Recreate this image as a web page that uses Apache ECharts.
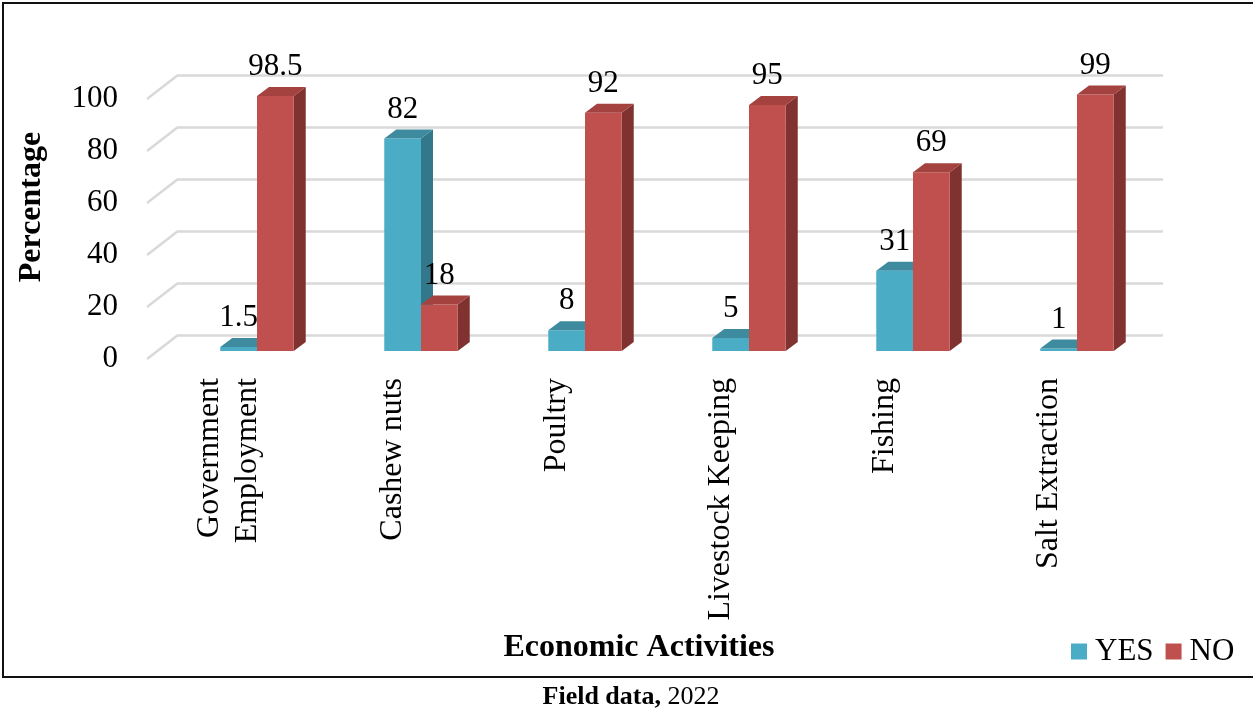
<!DOCTYPE html>
<html>
<head>
<meta charset="utf-8">
<script src="https://cdn.jsdelivr.net/npm/echarts@6/dist/echarts.min.js"></script>
<style>
html,body{margin:0;padding:0;background:#fff;}
#chart{width:1253px;height:711px;}
</style>
</head>
<body>
<div id="chart"></div>
<script>
const categories = ['Government\nEmployment', 'Cashew nuts', 'Poultry', 'Livestock Keeping', 'Fishing', 'Salt Extraction'];
const yesValues = [1.5, 82, 8, 5, 31, 1];
const noValues = [98.5, 18, 92, 95, 69, 99];
const yTicks = [0, 20, 40, 60, 80, 100];
const seriesNames = ['YES', 'NO'];

const FONT = '"Liberation Serif", "Times New Roman", serif';
const COLORS = {
  YES: { front: '#4bacc6', top: '#3e8ba0', side: '#32788a' },
  NO: { front: '#c0504d', top: '#a3423f', side: '#7f3230' }
};
const DEPTH_X = 12, DEPTH_Y = 9;
const BAR_FRAC = 0.224;

function barRenderer(which) {
  return function (params, api) {
    const cat = api.value(0), v = api.value(1);
    const base = api.coord([cat, 0]);
    const top = api.coord([cat, v]);
    const band = api.size([1, 0])[0];
    const w = band * BAR_FRAC;
    const x0 = which === 0 ? base[0] - w : base[0];
    const x1 = x0 + w;
    const yb = base[1], yt = top[1];
    const c = COLORS[seriesNames[which]];
    return {
      type: 'group',
      children: [
        { type: 'polygon', shape: { points: [[x1, yt], [x1 + DEPTH_X, yt - DEPTH_Y], [x1 + DEPTH_X, yb - DEPTH_Y], [x1, yb]] }, style: { fill: c.side } },
        { type: 'rect', shape: { x: x0, y: yt, width: w, height: yb - yt }, style: { fill: c.front } },
        { type: 'polygon', shape: { points: [[x0, yt], [x0 + DEPTH_X, yt - DEPTH_Y], [x1 + DEPTH_X, yt - DEPTH_Y], [x1, yt]] }, style: { fill: c.top } },
        { type: 'text', style: { text: String(v), x: (x0 + x1) / 2, y: yt - 29, align: 'center', verticalAlign: 'middle', font: '31px ' + FONT, fill: '#000' } }
      ]
    };
  };
}

function diagRenderer(params, api) {
  const t = api.value(1);
  const p = api.coord([0, t]);
  const x = params.coordSys.x;
  return {
    type: 'line',
    shape: { x1: x, y1: p[1], x2: x + 31, y2: p[1] - 24 },
    style: { stroke: '#d9d9d9', lineWidth: 2.5 }
  };
}

const chart = echarts.init(document.getElementById('chart'));
chart.setOption({
  backgroundColor: '#fff',
  animation: false,
  grid: [
    { left: 178, right: 90, top: 75, bottom: 376 },
    { left: 147, right: 122, top: 99, bottom: 352 },
    { left: 175, right: 94, top: 92, bottom: 360 }
  ],
  xAxis: [
    { type: 'category', gridIndex: 0, data: categories, show: false },
    {
      type: 'category', gridIndex: 1, data: categories,
      axisLine: { show: false }, axisTick: { show: false },
      axisLabel: { interval: 0, rotate: 90, margin: 19, fontSize: 32, lineHeight: 38, fontFamily: FONT, color: '#000' }
    },
    { type: 'category', gridIndex: 2, data: categories, show: false }
  ],
  yAxis: [
    {
      type: 'value', gridIndex: 0, min: 0, max: 100, interval: 20,
      axisLine: { show: false }, axisTick: { show: false }, axisLabel: { show: false },
      splitLine: { show: true, lineStyle: { color: '#d9d9d9', width: 2.5 } }
    },
    {
      type: 'value', gridIndex: 1, min: 0, max: 100, interval: 20,
      axisLine: { show: false }, axisTick: { show: false }, splitLine: { show: false },
      axisLabel: { margin: 29, fontSize: 31, fontFamily: FONT, color: '#000' }
    },
    { type: 'value', gridIndex: 2, min: 0, max: 100, interval: 20, show: false, splitLine: { show: false } }
  ],
  legend: {
    data: [{ name: 'YES', icon: 'rect' }, { name: 'NO', icon: 'rect' }],
    left: 1066, top: 631,
    itemWidth: 16, itemHeight: 16, itemGap: 12,
    textStyle: { fontSize: 31, fontFamily: FONT, color: '#000', padding: [0, 0, 0, 3] }
  },
  series: [
    {
      type: 'custom', name: 'diag', xAxisIndex: 1, yAxisIndex: 1,
      data: yTicks.map(t => [0, t]), renderItem: diagRenderer, silent: true, z: 1
    },
    {
      type: 'custom', name: 'YES', xAxisIndex: 2, yAxisIndex: 2,
      itemStyle: { color: COLORS.YES.front },
      data: yesValues.map((v, i) => [i, v]), renderItem: barRenderer(0), z: 3
    },
    {
      type: 'custom', name: 'NO', xAxisIndex: 2, yAxisIndex: 2,
      itemStyle: { color: COLORS.NO.front },
      data: noValues.map((v, i) => [i, v]), renderItem: barRenderer(1), z: 4
    }
  ],
  graphic: [
    { type: 'rect', shape: { x: 3, y: 3, width: 1260, height: 674 }, style: { fill: 'none', stroke: '#111', lineWidth: 2 }, z: 10 },
    { type: 'text', x: 32, y: 207, rotation: Math.PI / 2, style: { text: 'Percentage', font: 'bold 32px ' + FONT, fill: '#000', align: 'center', verticalAlign: 'middle' } },
    { type: 'text', x: 639, y: 648, style: { text: 'Economic Activities', font: 'bold 32px ' + FONT, fill: '#000', align: 'center', verticalAlign: 'middle' } },
    {
      type: 'text', x: 631, y: 697,
      style: {
        text: '{b|Field data,\u00a0}{r|2022}', align: 'center', verticalAlign: 'middle', fill: '#000',
        rich: { b: { fontWeight: 'bold', fontSize: 26, fontFamily: FONT, fill: '#000' }, r: { fontSize: 26, fontFamily: FONT, fill: '#000' } }
      }
    }
  ]
});
</script>
</body>
</html>
